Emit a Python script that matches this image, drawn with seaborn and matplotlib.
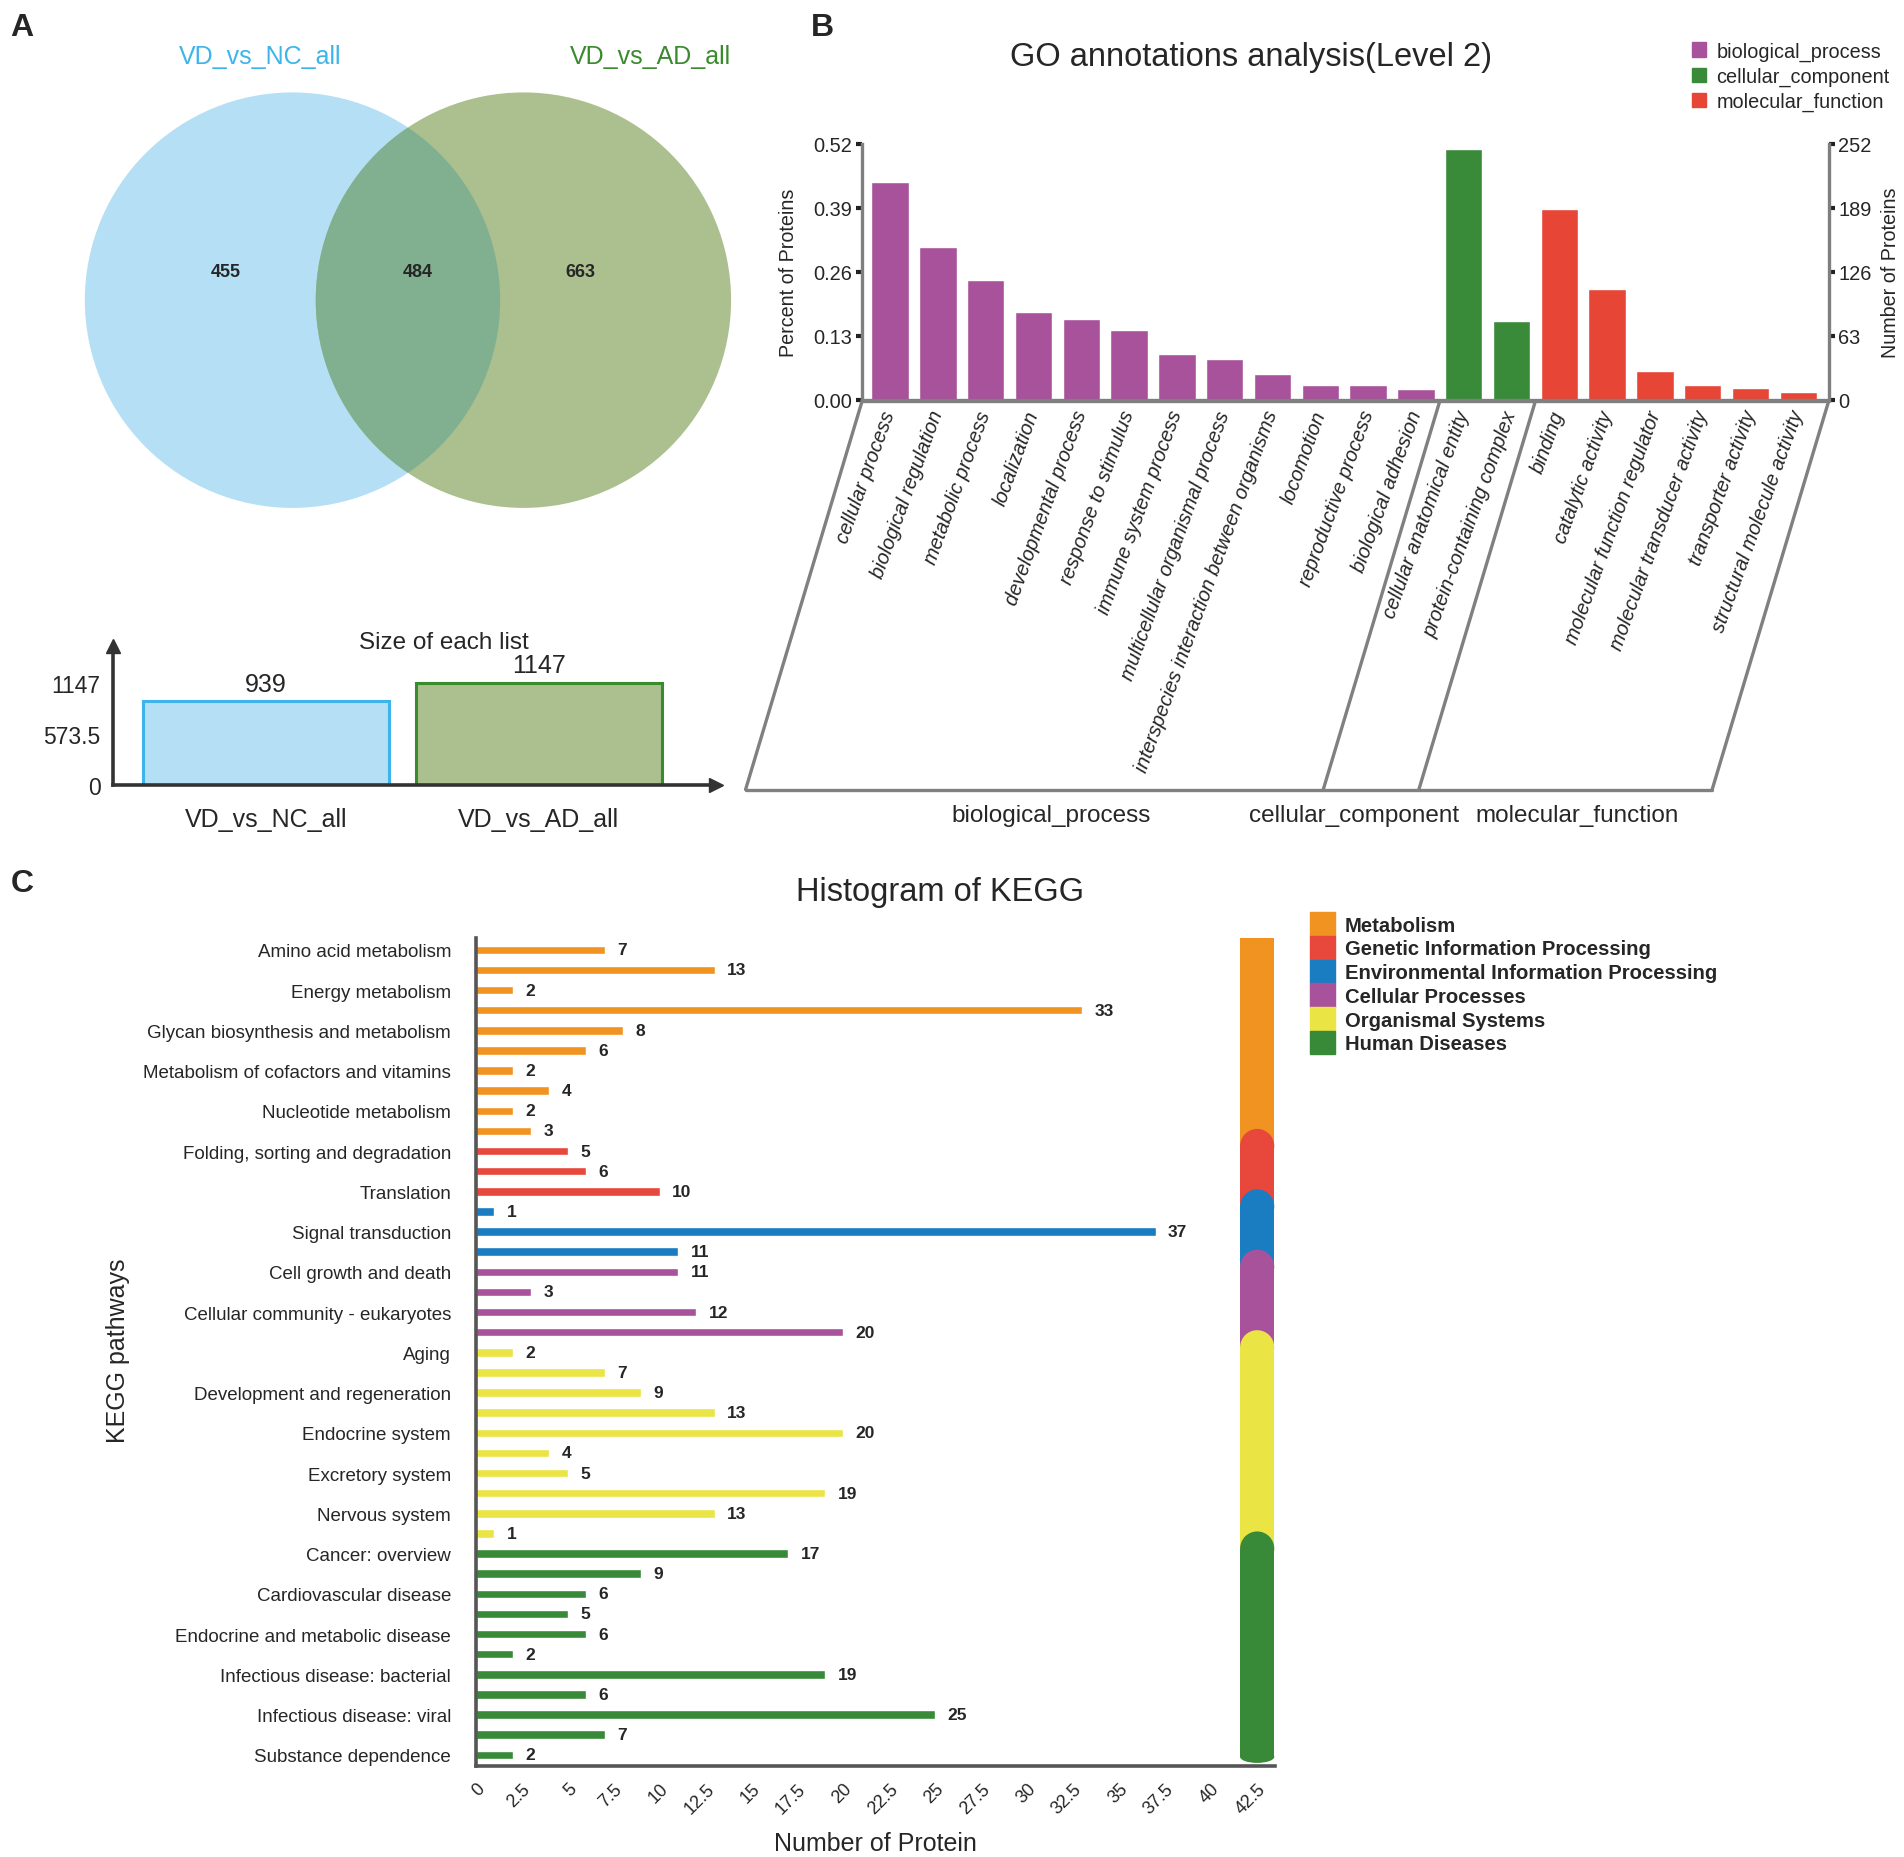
import numpy as np
import pandas as pd
import matplotlib.pyplot as plt
from matplotlib.patches import Circle, Rectangle, Ellipse, Patch
import seaborn as sns

# ---------------- data ----------------
venn_sets = ['VD_vs_NC_all', 'VD_vs_AD_all']
venn_only_left = 455
venn_shared = 484
venn_only_right = 663
list_sizes = [939, 1147]

go_terms = ['cellular process', 'biological regulation', 'metabolic process', 'localization',
            'developmental process', 'response to stimulus', 'immune system process',
            'multicellular organismal process', 'interspecies interaction between organisms',
            'locomotion', 'reproductive process', 'biological adhesion',
            'cellular anatomical entity', 'protein-containing complex',
            'binding', 'catalytic activity', 'molecular function regulator',
            'molecular transducer activity', 'transporter activity', 'structural molecule activity']
go_groups = ['biological_process'] * 12 + ['cellular_component'] * 2 + ['molecular_function'] * 6
go_percent = [0.441, 0.309, 0.243, 0.179, 0.164, 0.142, 0.092, 0.082, 0.053, 0.030, 0.029, 0.022,
              0.508, 0.160, 0.387, 0.224, 0.059, 0.029, 0.024, 0.016]
go_percent_ticks = [0.00, 0.13, 0.26, 0.39, 0.52]
go_count_ticks = [0, 63, 126, 189, 252]

kegg_pathways = ['Amino acid metabolism', 'Carbohydrate metabolism', 'Energy metabolism',
                 'Global and overview maps', 'Glycan biosynthesis and metabolism', 'Lipid metabolism',
                 'Metabolism of cofactors and vitamins', 'Metabolism of other amino acids',
                 'Nucleotide metabolism', 'Xenobiotics biodegradation and metabolism',
                 'Folding, sorting and degradation', 'Transcription', 'Translation',
                 'Membrane transport', 'Signal transduction', 'Signaling molecules and interaction',
                 'Cell growth and death', 'Cell motility', 'Cellular community - eukaryotes',
                 'Transport and catabolism',
                 'Aging', 'Circulatory system', 'Development and regeneration', 'Digestive system',
                 'Endocrine system', 'Environmental adaptation', 'Excretory system', 'Immune system',
                 'Nervous system', 'Sensory system',
                 'Cancer: overview', 'Cancer: specific types', 'Cardiovascular disease',
                 'Drug resistance: antineoplastic', 'Endocrine and metabolic disease', 'Immune disease',
                 'Infectious disease: bacterial', 'Infectious disease: parasitic',
                 'Infectious disease: viral', 'Neurodegenerative disease', 'Substance dependence']
kegg_groups = (['Metabolism'] * 10 + ['Genetic Information Processing'] * 3
               + ['Environmental Information Processing'] * 3 + ['Cellular Processes'] * 4
               + ['Organismal Systems'] * 10 + ['Human Diseases'] * 11)
kegg_counts = [7, 13, 2, 33, 8, 6, 2, 4, 2, 3,
               5, 6, 10,
               1, 37, 11,
               11, 3, 12, 20,
               2, 7, 9, 13, 20, 4, 5, 19, 13, 1,
               17, 9, 6, 5, 6, 2, 19, 6, 25, 7, 2]
kegg_xticks = [0, 2.5, 5, 7.5, 10, 12.5, 15, 17.5, 20, 22.5, 25, 27.5, 30, 32.5, 35, 37.5, 40, 42.5]

venn_colors = ['#b5dff5', '#abbf8f']
venn_edges = ['#3db5ea', '#3a8a2e']
venn_overlap = '#80b08f'
go_palette = {'biological_process': '#a8529b', 'cellular_component': '#398b3a',
              'molecular_function': '#e74536'}
kegg_palette = {'Metabolism': '#f09320', 'Genetic Information Processing': '#e8473b',
                'Environmental Information Processing': '#1a7dc2', 'Cellular Processes': '#a8529b',
                'Organismal Systems': '#ebe445', 'Human Diseases': '#388a38'}

sns.set_style('white')
plt.rcParams['font.family'] = ['Liberation Sans', 'DejaVu Sans']

# layout helper, positions given in pixels of a 1568x1530 frame
W, H = 1568.0, 1530.0


def box(x0, y0, x1, y1):
    return [x0 / W, 1 - y1 / H, (x1 - x0) / W, (y1 - y0) / H]


fig = plt.figure(figsize=(19.04, 18.58), dpi=100)

for letter, x, y in [('A', 18, 23), ('B', 677, 23), ('C', 18, 728)]:
    fig.text(x / W, 1 - y / H, letter, fontsize=23, fontweight='bold', ha='center', va='center')

# ---------------- A: venn ----------------
axv = fig.add_axes(box(56, 60, 626, 436))
axv.set_xlim(-1.637, 1.696)
axv.set_ylim(-1.099, 1.099)
axv.axis('off')
c_left = Circle((-0.556, 0), 1, color=venn_colors[0], lw=0)
c_right = Circle((0.556, 0), 1, color=venn_colors[1], lw=0)
axv.add_patch(c_left)
axv.add_patch(c_right)
c_mid = Circle((-0.556, 0), 1, color=venn_overlap, lw=0)
axv.add_patch(c_mid)
c_mid.set_clip_path(c_right)
axv.text(-0.713, 1.176, venn_sets[0], color='#3db5ea', fontsize=18, ha='center', va='center')
axv.text(1.17, 1.176, venn_sets[1], color='#3a8a2e', fontsize=18, ha='center', va='center')
for xx, val in [(-0.877, venn_only_left), (0.047, venn_shared), (0.83, venn_only_right)]:
    axv.text(xx, 0.14, str(val), fontsize=13, fontweight='bold', ha='center', va='center')

# ---------------- A: list sizes ----------------
axa = fig.add_axes(box(93, 533, 590, 647))
sns.barplot(x=venn_sets, y=list_sizes, hue=venn_sets, palette=venn_colors, width=0.9,
            saturation=1, legend=False, ax=axa)
for patch, ec in zip(axa.patches, venn_edges):
    patch.set_edgecolor(ec)
    patch.set_linewidth(2.2)
for cont in axa.containers:
    axa.bar_label(cont, fontsize=18, padding=4)
axa.set_xlim(-0.56, 1.65)
axa.set_ylim(0, 1560)
axa.set_yticks([0, list_sizes[1] / 2, list_sizes[1]])
axa.set_yticklabels(['0', '573.5', '1147'])
axa.tick_params(axis='y', labelsize=16.5, length=4, width=1.5, pad=5, color='#333')
axa.tick_params(axis='x', labelsize=18, length=4, width=1.2, pad=12, color='#333')
for s in ['top', 'right']:
    axa.spines[s].set_visible(False)
for s in ['left', 'bottom']:
    axa.spines[s].set_color('#333333')
    axa.spines[s].set_linewidth(2.6)
axa.plot([1], [0], marker='>', ms=10, color='#333333', transform=axa.transAxes, clip_on=False)
axa.plot([0], [1], marker='^', ms=10, color='#333333', transform=axa.transAxes, clip_on=False)
axa.text(0.549, 1.03, 'Size of each list', transform=axa.transAxes, fontsize=17.5,
         ha='center', va='center')
axa.set_xlabel('')
axa.set_ylabel('')

# ---------------- B: GO ----------------
axb = fig.add_axes(box(710, 119, 1506, 330))
df_go = pd.DataFrame({'term': go_terms, 'group': go_groups, 'percent': go_percent})
sns.barplot(data=df_go, x='term', y='percent', hue='group', palette=go_palette, dodge=False,
            width=0.78, saturation=1, legend=False, ax=axb)
axb.set_xlim(-0.584, 19.635)
axb.set_ylim(0, go_percent_ticks[-1])
axb.set_yticks(go_percent_ticks)
axb.set_yticklabels(['%.2f' % t for t in go_percent_ticks])
axb.set_xticks(range(len(go_terms)))
axb.set_xticklabels(go_terms, rotation=70, ha='right', va='center', rotation_mode='anchor',
                    fontsize=14.4, style='italic')
axb.tick_params(axis='x', length=0, pad=8)
axb.tick_params(axis='y', labelsize=14.4, length=4, width=3, pad=3, color='#222')
axb.set_xlabel('')
axb.set_ylabel('Percent of Proteins', fontsize=14.2)
axb.yaxis.set_label_coords(-0.066, 0.5)
for s in ['top', 'right']:
    axb.spines[s].set_visible(False)
for s in ['left', 'bottom']:
    axb.spines[s].set_color('#7f7f7f')
    axb.spines[s].set_linewidth(2.4)

axb2 = axb.twinx()
axb2.set_ylim(0, go_count_ticks[-1])
axb2.set_yticks(go_count_ticks)
axb2.tick_params(axis='y', labelsize=14.4, length=4, width=3, pad=3, color='#222')
axb2.set_ylabel('Number of Proteins', fontsize=14.2, rotation=90)
axb2.yaxis.set_label_coords(1.054, 0.5)
for s in ['top', 'left', 'bottom']:
    axb2.spines[s].set_visible(False)
axb2.spines['right'].set_color('#7f7f7f')
axb2.spines['right'].set_linewidth(2.4)

fig.text(1030 / W, 1 - 47 / H, 'GO annotations analysis(Level 2)', fontsize=23.5,
         ha='center', va='center')
go_handles = [Patch(color=go_palette[g]) for g in go_palette]
fig.legend(go_handles, list(go_palette), loc='upper left', bbox_to_anchor=(1393 / W, 1 - 35 / H),
           frameon=False, fontsize=14.3, handlelength=0.75, handleheight=0.75,
           handletextpad=0.5, labelspacing=0.3, borderaxespad=0, borderpad=0)

# bracket under the GO bars
axp = fig.add_axes(box(710, 331, 1506, 651))
x_left, x_right = axb.get_xlim()
axp.set_xlim(x_left, x_right)
axp.set_ylim(0, 1)
axp.axis('off')
slant = -96 / 39.37
cuts = [x_left] + [i + 0.5 for i in range(len(go_groups) - 1)
                   if go_groups[i] != go_groups[i + 1]] + [x_right]
line_kw = dict(color='#808080', lw=2.4, clip_on=False, solid_capstyle='round')
axp.plot([x_left, x_right], [1, 1], **line_kw)
axp.plot([x_left + slant, x_right + slant], [0, 0], **line_kw)
for c in cuts:
    axp.plot([c, c + slant], [1, 0], **line_kw)
for px, name in zip([866, 1115, 1299], go_palette):
    axp.text((px - 710) / 39.37 + x_left, -0.066, name, fontsize=17.5, ha='center', va='center')

# ---------------- C: KEGG ----------------
axc = fig.add_axes(box(392, 773, 1050, 1455))
df_k = pd.DataFrame({'pathway': kegg_pathways, 'group': kegg_groups, 'count': kegg_counts})
sns.barplot(data=df_k, y='pathway', x='count', hue='group', palette=kegg_palette, dodge=False,
            width=0.42, saturation=1, orient='h', legend=False, ax=axc)
for cont in axc.containers:
    axc.bar_label(cont, padding=9, fontsize=12.5, fontweight='bold')
axc.set_xlim(0, 43.5)
axc.set_ylim(len(kegg_pathways) - 0.45, -0.6)
axc.set_yticks(range(0, len(kegg_pathways), 2))
axc.set_yticklabels(kegg_pathways[::2], fontsize=13.5)
axc.set_xticks(kegg_xticks)
axc.set_xticklabels(['%g' % t for t in kegg_xticks], rotation=45, ha='right',
                    rotation_mode='anchor', fontsize=13)
axc.tick_params(axis='y', length=5, width=2.2, pad=13, color='#555')
axc.tick_params(axis='x', length=5, width=2.2, pad=5, color='#555')
for s in ['top', 'right']:
    axc.spines[s].set_visible(False)
for s in ['left', 'bottom']:
    axc.spines[s].set_color('#555555')
    axc.spines[s].set_linewidth(2.6)
axc.set_xlabel('Number of Protein', fontsize=18)
axc.xaxis.set_label_coords(0.5, -0.079)
axc.set_ylabel('KEGG pathways', fontsize=18)
axc.yaxis.set_label_coords(-0.433, 0.503)

# category strip at the right
strip_x0, strip_w, cap = 41.6, 1.86, 0.85
group_order = list(kegg_palette)
spans = []
for g in group_order:
    rows = [j for j, gg in enumerate(kegg_groups) if gg == g]
    spans.append((rows[0], rows[-1]))
for i, g in enumerate(group_order):
    first, last = spans[i]
    top = -0.6 if i == 0 else first - 1.1
    if i + 1 < len(group_order):
        bottom = spans[i + 1][0] - 1.1 + cap + 0.2
    else:
        bottom = last + 0.1
    rect_top = top if i == 0 else top + cap
    axc.add_patch(Rectangle((strip_x0, rect_top), strip_w, bottom - rect_top,
                            color=kegg_palette[g], lw=0))
    if i > 0:
        axc.add_patch(Ellipse((strip_x0 + strip_w / 2, top + cap), strip_w, 2 * cap,
                              color=kegg_palette[g], lw=0))
    if i == len(group_order) - 1:
        axc.add_patch(Ellipse((strip_x0 + strip_w / 2, bottom), strip_w, 0.6,
                              color=kegg_palette[g], lw=0))

fig.text(774 / W, 1 - 735 / H, 'Histogram of KEGG', fontsize=23.5, ha='center', va='center')
kegg_handles = [Patch(color=kegg_palette[g]) for g in group_order]
fig.legend(kegg_handles, group_order, loc='upper left', bbox_to_anchor=(1079 / W, 1 - 752 / H),
           frameon=False, prop={'size': 14.6, 'weight': 'bold'}, handlelength=1.2,
           handleheight=1.42, handletextpad=0.5, labelspacing=0.0, borderaxespad=0, borderpad=0)

fig.savefig('out.png', dpi=100)
